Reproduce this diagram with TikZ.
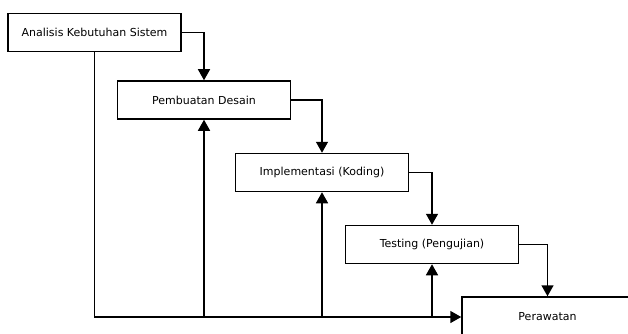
\documentclass[tikz,border=0pt]{standalone}
\usepackage{fontspec}
\setmainfont{DejaVu Sans}
\usetikzlibrary{arrows.meta}

\tikzset{
  tahap/.style={draw,line width=1.5pt,minimum width=173pt,minimum height=38pt,inner sep=0pt,font=\fontsize{11}{13}\selectfont},
  alur/.style={line width=1.5pt,-{Triangle[length=11pt,width=12pt]}}
}

\begin{document}
\begin{tikzpicture}[x=1pt,y=-1pt]
\useasboundingbox (0,0) rectangle (628,334);
\clip (0,0) rectangle (628,334);
\node[tahap] (analisis) at (94.5,32.5) {Analisis Kebutuhan Sistem};
\node[tahap] (desain) at (204,100) {Pembuatan Desain};
\node[tahap] (koding) at (322,172.5) {Implementasi (Koding)};
\node[tahap] (testing) at (432,244.5) {Testing (Pengujian)};
\node[tahap,minimum width=171pt,minimum height=40pt] (rawat) at (547.5,317) {Perawatan};
% alur maju
\draw[alur] (analisis.east) -| (desain.north);
\draw[alur] (desain.east) -| (koding.north);
\draw[alur] (koding.east) -| (testing.north);
\draw[alur] (testing.east) -| (rawat.north);
% alur balik
\coordinate (t2) at (desain.south |- rawat.west);
\coordinate (t3) at (koding.south |- rawat.west);
\coordinate (t4) at (testing.south |- rawat.west);
\draw[alur] (analisis.south) |- (rawat.west);
\draw[alur] (t2) -- (desain.south);
\draw[alur] (t3) -- (koding.south);
\draw[alur] (t4) -- (testing.south);
\end{tikzpicture}
\end{document}
